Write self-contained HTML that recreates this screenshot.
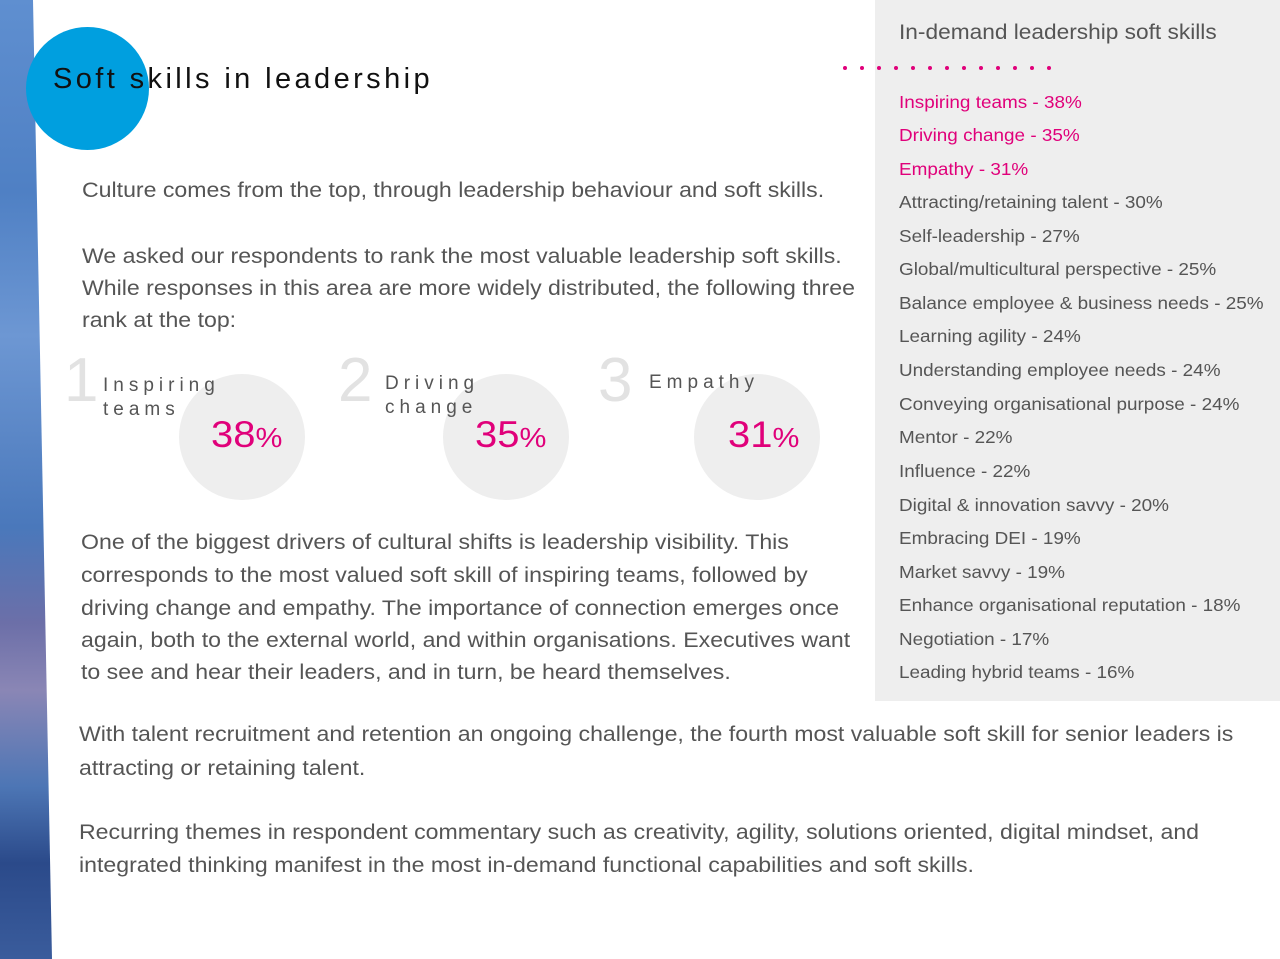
<!DOCTYPE html>
<html><head><style>
body{margin:0;width:1280px;height:959px;position:relative;background:#fff;overflow:hidden;font-family:"Liberation Sans",sans-serif;}
.strip{position:absolute;left:0;top:0;width:60px;height:959px;clip-path:polygon(0 0,33px 0,52px 959px,0 959px);
background:linear-gradient(180deg,#5f8fd0 0%,#4f80c4 20%,#6d97d3 35%,#4a78bb 55%,#6c6fa8 65%,#8a86b5 72%,#4d76b5 82%,#2b4a8a 90%,#3a5c9c 100%);}
.t{position:absolute;white-space:nowrap;color:#555;font-size:21px;transform:scaleX(1.1);transform-origin:0 0;}
.r{position:absolute;left:899px;white-space:nowrap;color:#555;font-size:17.5px;transform:scaleX(1.08);transform-origin:0 0;}
.pk{color:#e0007a}
.c{position:absolute;width:126px;height:126px;border-radius:50%;background:#eeeeee;}
.n{position:absolute;font-size:62px;color:#e2e2e2;line-height:1}
.lb{position:absolute;font-size:19px;letter-spacing:5px;color:#555;line-height:24px}
.pc{position:absolute;font-size:37px;color:#e0007a;transform:scaleX(1.08);transform-origin:0 0}
</style></head><body>
<div class="strip"></div>
<div style="position:absolute;left:26px;top:27px;width:123px;height:123px;border-radius:50%;background:#009fdf"></div>
<div style="position:absolute;left:53px;top:63px;font-size:29px;letter-spacing:3.4px;color:#111;white-space:nowrap">Soft skills in leadership</div>

<div style="position:absolute;left:875px;top:0;width:405px;height:701px;background:#eeeeee"></div>
<div class="r" style="top:21px;font-size:21px">In-demand leadership soft skills</div>
<svg style="position:absolute;left:838px;top:62px" width="220" height="12"><g fill="#e0007a">
<circle cx="7" cy="6" r="2"/><circle cx="24" cy="6" r="2"/><circle cx="41" cy="6" r="2"/><circle cx="58" cy="6" r="2"/><circle cx="75" cy="6" r="2"/><circle cx="92" cy="6" r="2"/><circle cx="109" cy="6" r="2"/><circle cx="126" cy="6" r="2"/><circle cx="143" cy="6" r="2"/><circle cx="160" cy="6" r="2"/><circle cx="177" cy="6" r="2"/><circle cx="194" cy="6" r="2"/><circle cx="211" cy="6" r="2"/></g></svg>
<div class="r pk" style="top:92px">Inspiring teams - 38%</div>
<div class="r pk" style="top:125px">Driving change - 35%</div>
<div class="r pk" style="top:159px">Empathy - 31%</div>
<div class="r" style="top:192px">Attracting/retaining talent - 30%</div>
<div class="r" style="top:226px">Self-leadership - 27%</div>
<div class="r" style="top:259px">Global/multicultural perspective - 25%</div>
<div class="r" style="top:293px">Balance employee &amp; business needs - 25%</div>
<div class="r" style="top:326px">Learning agility - 24%</div>
<div class="r" style="top:360px">Understanding employee needs - 24%</div>
<div class="r" style="top:394px">Conveying organisational purpose - 24%</div>
<div class="r" style="top:427px">Mentor - 22%</div>
<div class="r" style="top:461px">Influence - 22%</div>
<div class="r" style="top:495px">Digital &amp; innovation savvy - 20%</div>
<div class="r" style="top:528px">Embracing DEI - 19%</div>
<div class="r" style="top:562px">Market savvy - 19%</div>
<div class="r" style="top:595px">Enhance organisational reputation - 18%</div>
<div class="r" style="top:629px">Negotiation - 17%</div>
<div class="r" style="top:662px">Leading hybrid teams - 16%</div>

<div class="t" style="left:82px;top:179px">Culture comes from the top, through leadership behaviour and soft skills.</div>
<div class="t" style="left:82px;top:245px">We asked our respondents to rank the most valuable leadership soft skills.</div>
<div class="t" style="left:82px;top:277px">While responses in this area are more widely distributed, the following three</div>
<div class="t" style="left:82px;top:309px">rank at the top:</div>

<div class="c" style="left:179px;top:374px"></div>
<div class="c" style="left:443px;top:374px"></div>
<div class="c" style="left:694px;top:374px"></div>
<div class="n" style="left:64px;top:350px">1</div>
<div class="n" style="left:338px;top:350px">2</div>
<div class="n" style="left:598px;top:350px">3</div>
<div class="lb" style="left:103px;top:374px">Inspiring<br>teams</div>
<div class="lb" style="left:385px;top:372px">Driving<br>change</div>
<div class="lb" style="left:649px;top:371px">Empathy</div>
<div class="pc" style="left:211px;top:414px">38<span style="font-size:28px">%</span></div>
<div class="pc" style="left:475px;top:414px">35<span style="font-size:28px">%</span></div>
<div class="pc" style="left:728px;top:414px">31<span style="font-size:28px">%</span></div>

<div class="t" style="left:81px;top:531px">One of the biggest drivers of cultural shifts is leadership visibility. This</div>
<div class="t" style="left:81px;top:564px">corresponds to the most valued soft skill of inspiring teams, followed by</div>
<div class="t" style="left:81px;top:597px">driving change and empathy. The importance of connection emerges once</div>
<div class="t" style="left:81px;top:629px">again, both to the external world, and within organisations. Executives want</div>
<div class="t" style="left:81px;top:661px">to see and hear their leaders, and in turn, be heard themselves.</div>

<div class="t" style="left:79px;top:723px">With talent recruitment and retention an ongoing challenge, the fourth most valuable soft skill for senior leaders is</div>
<div class="t" style="left:79px;top:757px">attracting or retaining talent.</div>
<div class="t" style="left:79px;top:821px">Recurring themes in respondent commentary such as creativity, agility, solutions oriented, digital mindset, and</div>
<div class="t" style="left:79px;top:854px">integrated thinking manifest in the most in-demand functional capabilities and soft skills.</div>
</body></html>
